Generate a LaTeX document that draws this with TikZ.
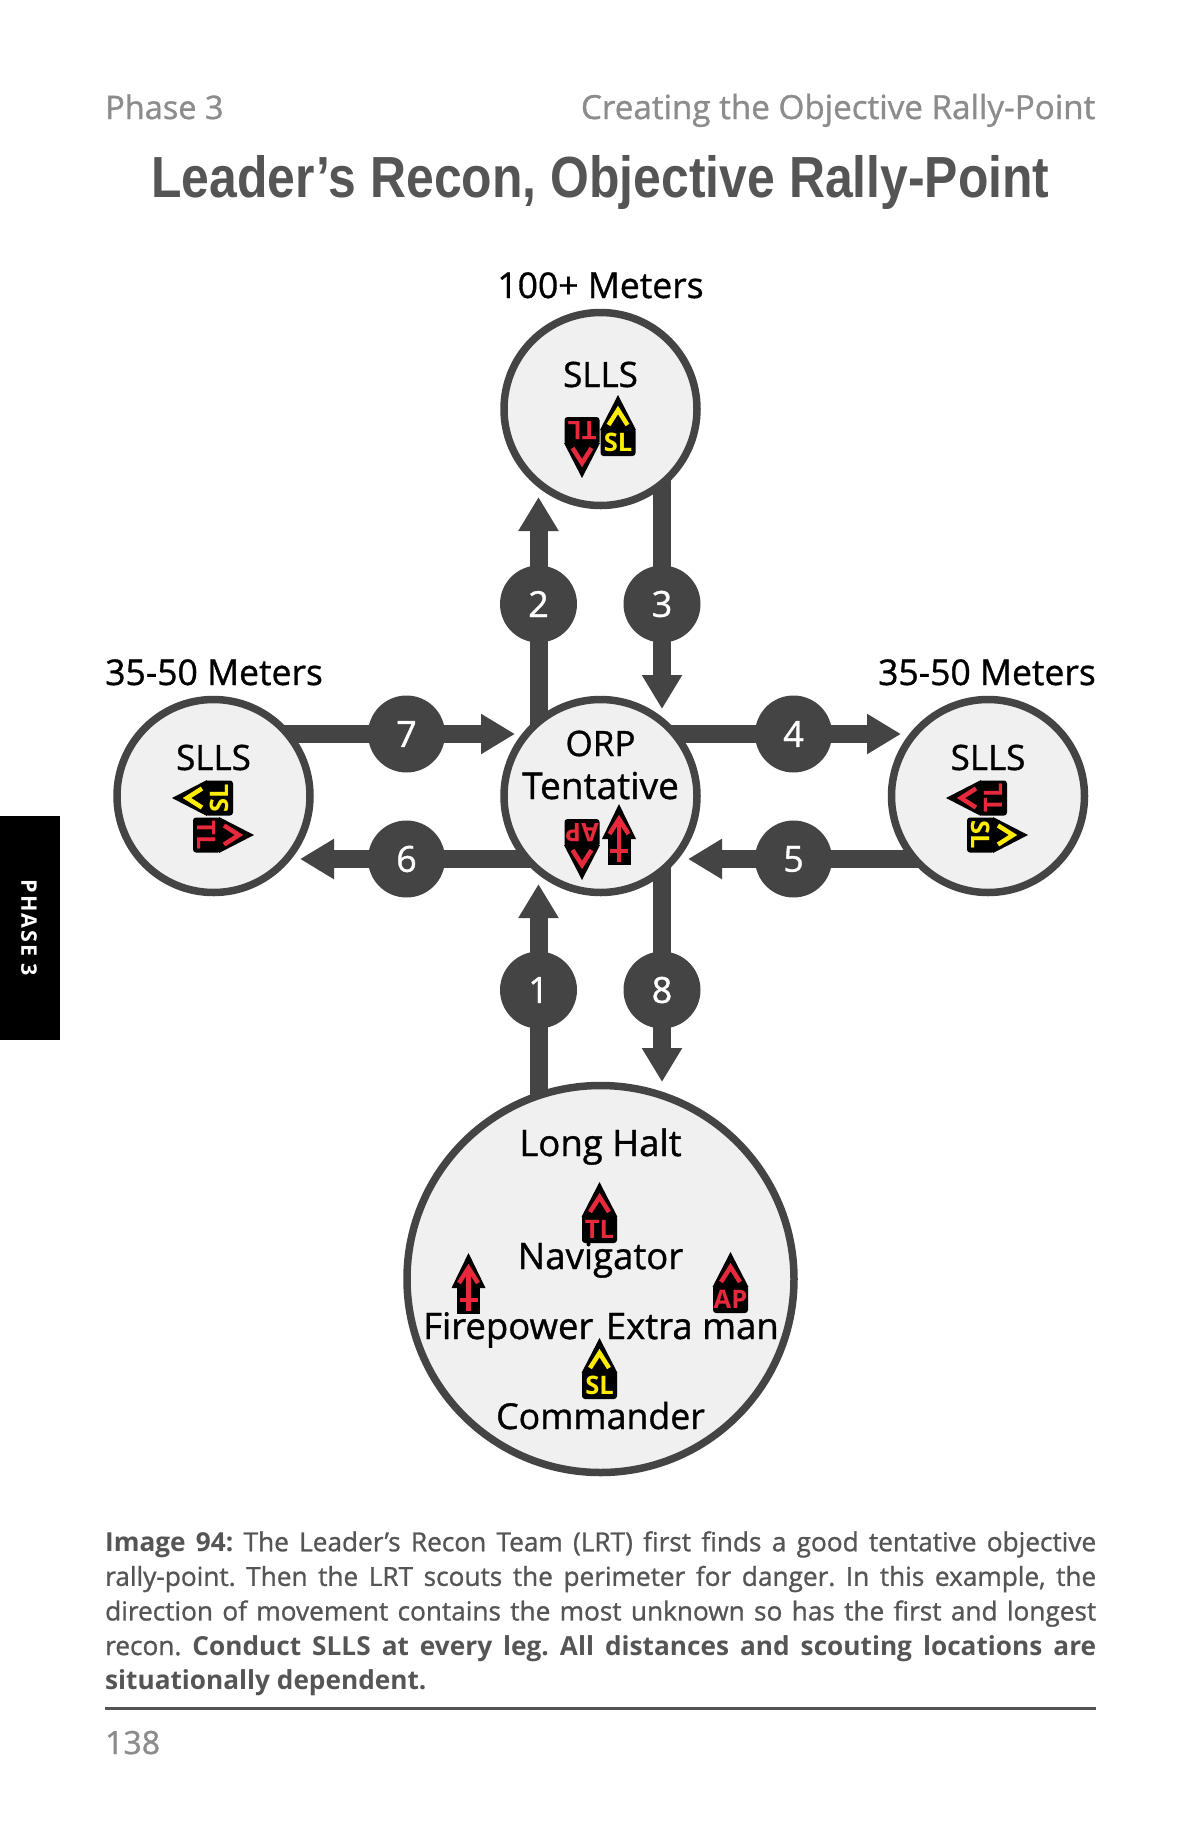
\documentclass[tikz,border=0pt]{standalone}
\usepackage{fontspec}
\usepackage{graphicx}
\setmainfont[UprightFeatures={FakeBold=1}]{Open Sans}
\newfontfamily\titlefont{Liberation Sans}
\usetikzlibrary{arrows.meta,backgrounds,calc}
\definecolor{ink}{HTML}{444444}
\definecolor{pale}{HTML}{F0F0F1}
\definecolor{mred}{HTML}{E8293C}
\definecolor{myel}{HTML}{FFEC00}
\definecolor{headgrey}{HTML}{8C8C8C}
\definecolor{bodygrey}{HTML}{555555}
\newcommand{\fs}[1]{\fontsize{#1}{#1}\selectfont}
\tikzset{
  place/.style={circle,draw=ink,fill=pale,line width=7.5pt,inner sep=0pt,minimum size=#1},
  badge/.style={circle,fill=ink,text=white,inner sep=0pt,minimum size=77pt,font=\fs{36}},
  flow/.style={draw=ink,line width=18pt,-{Triangle[width=38pt,length=34pt]}},
  lab/.style={anchor=base,inner sep=0pt,text=black,font=\fs{36.5}},
  marklabel/.style={inner sep=0pt,transform shape,font=\fs{25.5}\bfseries},
  chev/.style={line width=4.5pt,line join=miter},
}
% x, y, rotation, colour, label
\newcommand{\soldier}[5]{%
  \begin{scope}[shift={(#1,#2)},rotate=#3]
    \fill[black] (0,-34) -- (18,1) -- (-18,1) -- cycle;
    \fill[black,rounded corners=3pt] (-17.5,-1) rectangle (17.5,27);
    \draw[#4,chev] (-9.5,-4) -- (0,-19) -- (9.5,-4);
    \node[marklabel,text=#4] at (0,13) {#5};
  \end{scope}}
\newcommand{\gunner}[3]{%
  \begin{scope}[shift={(#1,#2)},rotate=#3]
    \fill[black] (0,-34) -- (17,1) -- (-17,1) -- cycle;
    \fill[black] (-11.5,-1) rectangle (11.5,27);
    \draw[mred,chev] (-9.5,-4) -- (0,-19) -- (9.5,-4);
    \draw[mred,line width=4.5pt] (0,-19) -- (0,24);
    \draw[mred,line width=4.5pt] (-9,13) -- (9,13);
  \end{scope}}
\begin{document}
\begin{tikzpicture}[x=1pt,y=-1pt]
\useasboundingbox (0,0) rectangle (1200,1847);

% page furniture
\node[anchor=base west,inner sep=0pt,text=headgrey,font=\fs{32.5}] (hl) at (105,119) {Phase 3};
\node[anchor=base east,inner sep=0pt,text=headgrey,font=\fs{33.2}] (hr) at (1095.5,119) {Creating the Objective Rally-Point};
\node[anchor=base,inner sep=0pt,text=bodygrey] (title) at (600.5,197)
  {\resizebox{898pt}{\height}{\titlefont\bfseries\fs{58}Leader’s Recon, Objective Rally-Point}};
\fill[black] (0,816) rectangle (60,1040);
\node[rotate=-90,text=white,inner sep=0pt,font=\fs{21.5}\bfseries\addfontfeature{LetterSpace=9}] (tab) at (29,928) {PHASE 3};

% places
\node[place=193pt] (top) at (600.5,409) {};
\node[place=193pt] (orp) at (600.5,796) {};
\node[place=193pt] (left) at (213.5,796) {};
\node[place=193pt] (right) at (988,796) {};
\node[place=387pt] (halt) at (600.5,1279) {};

% step badges
\node[badge] (b1) at (538.5,990) {1};
\node[badge] (b2) at (538.5,604) {2};
\node[badge] (b3) at (662,604) {3};
\node[badge] (b4) at (793.5,734) {4};
\node[badge] (b5) at (793.5,859) {5};
\node[badge] (b6) at (406.5,859) {6};
\node[badge] (b7) at (406.5,734) {7};
\node[badge] (b8) at (662,990) {8};

% arrow tips
\coordinate (t1) at (538.5,884);
\coordinate (t2) at (538.5,497);
\coordinate (t3) at (662,709);
\coordinate (t4) at (901,734);
\coordinate (t5) at (688,859);
\coordinate (t6) at (300,859);
\coordinate (t7) at (515,734);
\coordinate (t8) at (662,1082);

\begin{scope}[on background layer]
  \fill[white] (0,0) rectangle (1200,1847);
  \draw[flow] (halt.center -| b1) -- (t1);
  \draw[flow] (orp.center -| b2) -- (t2);
  \draw[flow] (top.center -| b3) -- (t3);
  \draw[flow] (orp.center |- b4) -- (t4);
  \draw[flow] (right.center |- b5) -- (t5);
  \draw[flow] (orp.center |- b6) -- (t6);
  \draw[flow] (left.center |- b7) -- (t7);
  \draw[flow] (orp.center -| b8) -- (t8);
\end{scope}

% labels
\node[lab,font=\fs{35.5}] (d1) at (600.5,298) {100+ Meters};
\node[lab,font=\fs{35.5},anchor=base west] (d2) at (105,685) {35-50 Meters};
\node[lab,font=\fs{35.5},anchor=base east] (d3) at (1096,685) {35-50 Meters};
\node[lab,font=\fs{35}] (s1) at (600.5,387) {SLLS};
\node[lab,font=\fs{35}] (s2) at (213.5,770) {SLLS};
\node[lab,font=\fs{35}] (s3) at (988,770) {SLLS};
\node[lab,font=\fs{35}] (o1) at (600.5,756) {ORP};
\node[lab,font=\fs{37}] (o2) at (600.5,799) {Tentative};
\node[lab] (h1) at (600.5,1156) {Long Halt};
\node[lab] (h2) at (600.5,1269) {Navigator};
\node[lab,anchor=base west] (h3) at (423,1339) {Firepower};
\node[lab,anchor=base east] (h4) at (779,1339) {Extra man};
\node[lab,font=\fs{35.7}] (h5) at (600.5,1429) {Commander};

% position markers
\soldier{582}{444}{180}{mred}{TL}
\soldier{618}{429}{0}{myel}{SL}
\soldier{582}{846}{180}{mred}{AP}
\gunner{619}{838}{0}
\soldier{206}{798}{90}{myel}{SL}
\soldier{220}{835}{-90}{mred}{TL}
\soldier{980}{798}{90}{mred}{TL}
\soldier{994}{835}{-90}{myel}{SL}
\soldier{599.5}{1216}{0}{mred}{TL}
\gunner{468.5}{1287}{0}
\soldier{730.5}{1286}{0}{mred}{AP}
\soldier{599.5}{1372}{0}{myel}{SL}

% caption
\node[anchor=north west,inner sep=0pt,text width=991pt,align=justify,text=bodygrey] (cap) at (105,1531)
 {\fontsize{26.2}{34.6}\selectfont\frenchspacing\textbf{Image 94:} The Leader’s Recon Team (LRT) first finds a good tentative objective\linebreak
 rally-point. Then the LRT scouts the perimeter for danger. In this example, the\linebreak
 direction of movement contains the most unknown so has the first and longest\linebreak
 recon. \textbf{Conduct SLLS at every leg. All distances and scouting locations are\linebreak
 situationally dependent.}\par};
\coordinate (r1) at (105,1708);
\coordinate (r2) at (1096,1708);
\draw[bodygrey,line width=3pt] (r1) -- (r2);
\node[anchor=base west,inner sep=0pt,text=headgrey,font=\fs{32}] (pg) at (105,1754) {138};
\end{tikzpicture}
\end{document}
